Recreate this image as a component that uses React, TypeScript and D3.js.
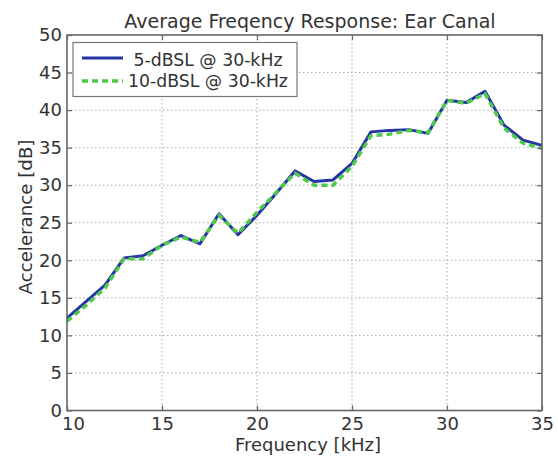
import React, { useEffect, useRef } from "react";
import * as d3 from "d3";

// frequency in kHz
const freqs = [10, 11, 12, 13, 14, 15, 16, 17, 18, 19, 20, 21, 22, 23, 24, 25, 26, 27, 28, 29, 30, 31, 32, 33, 34, 35];
const series5dB = [12.3, 14.5, 16.7, 20.3, 20.6, 22.0, 23.3, 22.2, 26.2, 23.4, 26.0, 28.9, 31.9, 30.5, 30.7, 32.9, 37.1, 37.3, 37.4, 36.9, 41.3, 41.0, 42.5, 38.0, 36.0, 35.3];
const series10dB = [11.9, 14.0, 16.3, 20.2, 20.2, 22.0, 23.1, 22.4, 26.0, 23.6, 26.4, 29.0, 31.6, 30.0, 30.0, 32.5, 36.6, 36.8, 37.3, 37.0, 41.3, 40.9, 42.2, 37.6, 35.6, 34.9];
const seriesNames = ["5-dBSL @ 30-kHz", "10-dBSL @ 30-kHz"];
const xTicks = [10, 15, 20, 25, 30, 35];
const yTicks = [0, 5, 10, 15, 20, 25, 30, 35, 40, 45, 50];

const FONT = "'DejaVu Sans', sans-serif";
const BLUE = "#2433a6";
const GREEN = "#4fc94a";

const Chart = () => {
    const container = useRef<HTMLDivElement>(null);

    useEffect(() => {
        const el = container.current;
        if (!el) return;
        el.innerHTML = "";
        document.body.style.margin = "0";
        document.body.style.overflow = "hidden";

        const W = 558, H = 457;
        const margin = { top: 35, left: 67 };
        const width = 542 - margin.left;
        const height = 410.5 - margin.top;

        const svg = d3.select(el)
            .append("svg")
            .attr("width", W)
            .attr("height", H)
            .style("display", "block")
            .style("font-family", FONT);

        svg.append("rect").attr("width", W).attr("height", H).attr("fill", "#fff");

        const g = svg.append("g")
            .attr("transform", `translate(${margin.left},${margin.top})`);

        const x = d3.scaleLinear().domain([10, 35]).range([0, width]);
        const y = d3.scaleLinear().domain([0, 50]).range([height, 0]);

        // dotted grid
        g.append("g")
            .selectAll("line")
            .data(xTicks.slice(1, -1))
            .enter()
            .append("line")
            .attr("x1", (d) => x(d)).attr("x2", (d) => x(d))
            .attr("y1", 0).attr("y2", height)
            .attr("stroke", "#aaa").attr("stroke-width", 1)
            .attr("stroke-dasharray", "1.5,2.5");
        g.append("g")
            .selectAll("line")
            .data(yTicks.slice(1, -1))
            .enter()
            .append("line")
            .attr("x1", 0).attr("x2", width)
            .attr("y1", (d) => y(d)).attr("y2", (d) => y(d))
            .attr("stroke", "#aaa").attr("stroke-width", 1)
            .attr("stroke-dasharray", "1.5,2.5");

        const data = freqs.map((f, i) => ({ f, a: series5dB[i], b: series10dB[i] }));

        const lineA = d3.line<{ f: number; a: number; b: number }>()
            .x((d) => x(d.f)).y((d) => y(d.a));
        const lineB = d3.line<{ f: number; a: number; b: number }>()
            .x((d) => x(d.f)).y((d) => y(d.b));

        g.append("path")
            .datum(data)
            .attr("d", lineA)
            .attr("fill", "none")
            .attr("stroke", BLUE)
            .attr("stroke-width", 3)
            .attr("stroke-linejoin", "round");

        g.append("path")
            .datum(data)
            .attr("d", lineB)
            .attr("fill", "none")
            .attr("stroke", GREEN)
            .attr("stroke-width", 3.5)
            .attr("stroke-dasharray", "6,4");

        // box + inward ticks
        g.append("rect")
            .attr("width", width).attr("height", height)
            .attr("fill", "none").attr("stroke", "#666").attr("stroke-width", 1.6);

        const axisStyle = (sel: any) => {
            sel.select(".domain").remove();
            sel.selectAll(".tick line").attr("stroke", "#666").attr("stroke-width", 1.2);
            sel.selectAll(".tick text")
                .attr("fill", "#333")
                .style("font-family", FONT)
                .style("font-size", "18px");
        };

        const bottomAxis = g.append("g")
            .attr("transform", `translate(0,${height})`)
            .call(d3.axisBottom(x).tickValues(xTicks).tickSize(-5).tickPadding(6.5).tickFormat(d3.format("d")))
            .call(axisStyle);
        // first label is nudged right so it clears the y-axis "0"
        bottomAxis.selectAll(".tick text").filter((d: any) => d === 10).attr("dx", 6);
        g.append("g")
            .call(d3.axisTop(x).tickValues(xTicks).tickSize(-5).tickFormat(() => ""))
            .call(axisStyle);
        g.append("g")
            .call(d3.axisLeft(y).tickValues(yTicks).tickSize(-5).tickPadding(5).tickFormat(d3.format("d")))
            .call(axisStyle);
        g.append("g")
            .attr("transform", `translate(${width},0)`)
            .call(d3.axisRight(y).tickValues(yTicks).tickSize(-5).tickFormat(() => ""))
            .call(axisStyle);

        // legend
        const leg = svg.append("g");
        leg.append("rect")
            .attr("x", 73).attr("y", 42.5)
            .attr("width", 224).attr("height", 54)
            .attr("fill", "#fff").attr("stroke", "#777").attr("stroke-width", 1.2);
        const legStyles = [
            { color: BLUE, dash: null, w: 3 },
            { color: GREEN, dash: "6,4", w: 3.5 },
        ];
        seriesNames.forEach((name, i) => {
            const cy = 58 + i * 23;
            leg.append("line")
                .attr("x1", 82).attr("x2", 123)
                .attr("y1", cy).attr("y2", cy)
                .attr("stroke", legStyles[i].color)
                .attr("stroke-width", legStyles[i].w)
                .attr("stroke-dasharray", legStyles[i].dash);
            leg.append("text")
                .attr("x", 208).attr("y", 65.5 + i * 21.5)
                .attr("text-anchor", "middle")
                .attr("fill", "#333")
                .style("font-size", "17.3px")
                .text(name);
        });

        // title and axis labels
        svg.append("text")
            .attr("x", 310).attr("y", 28)
            .attr("text-anchor", "middle")
            .attr("fill", "#333")
            .style("font-size", "19px")
            .text("Average Freqency Response: Ear Canal");
        svg.append("text")
            .attr("x", 308).attr("y", 451)
            .attr("text-anchor", "middle")
            .attr("fill", "#333")
            .style("font-size", "18px")
            .text("Frequency [kHz]");
        svg.append("text")
            .attr("transform", "translate(32,217) rotate(-90)")
            .attr("text-anchor", "middle")
            .attr("fill", "#333")
            .style("font-size", "18.2px")
            .text("Accelerance [dB]");
    }, []);

    return <div ref={container}></div>;
};

export default function App() {
    return (
        <div style={{ position: "absolute", left: 0, top: 0, width: 558, height: 457 }}>
            <Chart />
        </div>
    );
}
